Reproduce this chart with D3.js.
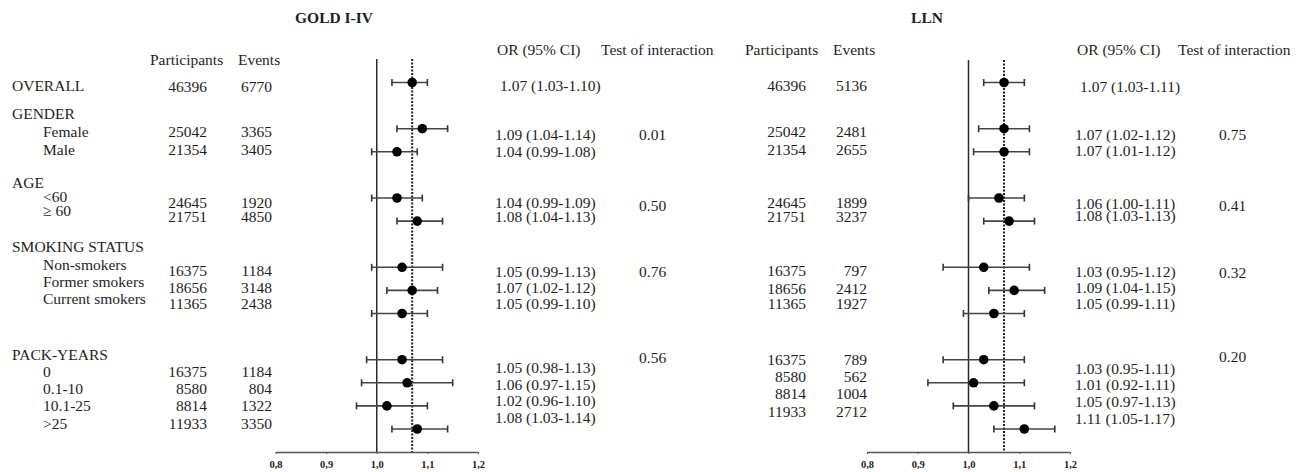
<!DOCTYPE html>
<html>
<head>
<meta charset="utf-8">
<script src="https://cdn.jsdelivr.net/npm/d3@7"></script>
<style>
  body { margin: 0; background: #fff; }
  text { font-family: "Liberation Serif", "Times New Roman", serif; fill: #1e1e1e; }
</style>
</head>
<body>
<script>
// chart data
var groups = ["GENDER", "AGE", "SMOKING STATUS", "PACK-YEARS"];
var subgroups = ["OVERALL", "Female", "Male", "<60", "\u2265 60", "Non-smokers", "Former smokers",
  "Current smokers", "0", "0.1-10", "10.1-25", ">25"];
var participants = [46396, 25042, 21354, 24645, 21751, 16375, 18656, 11365, 16375, 8580, 8814, 11933];

var goldEvents = [6770, 3365, 3405, 1920, 4850, 1184, 3148, 2438, 1184, 804, 1322, 3350];
var goldOR = [1.07, 1.09, 1.04, 1.04, 1.08, 1.05, 1.07, 1.05, 1.05, 1.06, 1.02, 1.08];
var goldLo = [1.03, 1.04, 0.99, 0.99, 1.04, 0.99, 1.02, 0.99, 0.98, 0.97, 0.96, 1.03];
var goldHi = [1.10, 1.14, 1.08, 1.09, 1.13, 1.13, 1.12, 1.10, 1.13, 1.15, 1.10, 1.14];
var goldInteraction = ["0.01", "0.50", "0.76", "0.56"];

var llnParticipants = [46396, 25042, 21354, 24645, 21751, 16375, 18656, 11365, 16375, 8580, 8814, 11933];
var llnEvents = [5136, 2481, 2655, 1899, 3237, 797, 2412, 1927, 789, 562, 1004, 2712];
var llnOR = [1.07, 1.07, 1.07, 1.06, 1.08, 1.03, 1.09, 1.05, 1.03, 1.01, 1.05, 1.11];
var llnLo = [1.03, 1.02, 1.01, 1.00, 1.03, 0.95, 1.04, 0.99, 0.95, 0.92, 0.97, 1.05];
var llnHi = [1.11, 1.12, 1.12, 1.11, 1.13, 1.12, 1.15, 1.11, 1.11, 1.11, 1.13, 1.17];
var llnInteraction = ["0.75", "0.41", "0.32", "0.20"];

var ticks = [0.8, 0.9, 1.0, 1.1, 1.2];
var pooledOR = 1.07;

// layout (row slots for the plot, text baselines for the tables)
var rowSlot = [0, 2, 3, 5, 6, 8, 9, 10, 12, 13, 14, 15];
var groupY = [119, 188, 252, 359.5];
var labelY = [91, 137, 154.5, 202, 216, 269.5, 287, 304, 377, 394, 411, 428.5];
var goldNumY = [92, 137, 154.5, 208, 222, 276, 292.5, 309, 377, 394, 411, 428.5];
var goldOrY = [91, 140, 157, 207.5, 222, 277, 293, 309, 372.5, 389.5, 406, 422.5];
var goldIntY = [140, 211, 277, 362.5];
var llnNumY = [91, 137, 154.5, 207.5, 222, 276, 293.5, 309, 364.5, 382, 399, 417];
var llnOrY = [92, 140, 155.5, 209, 220.5, 277, 292.5, 308.5, 373.5, 390, 407, 423.5];
var llnIntY = [139.5, 210.5, 278, 362];

var width = 1309, height = 472, fs = "15.5px";

var svg = d3.select("body").append("svg")
  .attr("width", width)
  .attr("height", height);

var y = d3.scaleLinear().domain([0, 15]).range([82.5, 429]);

function addText(x, yy, s, anchor, extra) {
  var t = svg.append("text")
    .attr("x", x).attr("y", yy)
    .attr("text-anchor", anchor || "start")
    .style("font-size", fs)
    .text(s);
  if (extra) t.style("font-weight", extra);
  return t;
}

// draw one panel
function panel(p) {
  addText(p.titleX, 23, p.title, "middle", "bold");
  addText(p.partHeadX, p.partHeadY, "Participants");
  addText(p.evHeadX, p.partHeadY, "Events");
  addText(p.orX + 2, 55, "OR (95% CI)");
  addText(p.intHeadX, 55, "Test of interaction");

  p.parts.forEach(function(v, i) { addText(p.partRight, p.numY[i], v, "end"); });
  p.events.forEach(function(v, i) { addText(p.evRight, p.numY[i], v, "end"); });
  p.or.forEach(function(v, i) {
    var s = d3.format(".2f")(v) + " (" + d3.format(".2f")(p.lo[i]) + "-" + d3.format(".2f")(p.hi[i]) + ")";
    addText(p.orX + (i == 0 ? 5 : 0), p.orY[i], s);
  });
  p.inter.forEach(function(v, i) { addText(p.intX, p.intY[i], v); });

  var x = d3.scaleLinear().domain([0.8, 1.2]).range([p.x0, p.x1]);
  var g = svg.append("g");

  // reference lines
  g.append("line")
    .attr("x1", x(1)).attr("x2", x(1))
    .attr("y1", p.top).attr("y2", 452)
    .attr("stroke", "#2a2a2a").attr("stroke-width", 1.5);
  g.append("line")
    .attr("x1", x(pooledOR)).attr("x2", x(pooledOR))
    .attr("y1", p.top).attr("y2", 452)
    .attr("stroke", "#222").attr("stroke-width", 2)
    .attr("stroke-dasharray", "2,1.5");

  var rows = p.or.map(function(v, i) { return { or: v, lo: p.lo[i], hi: p.hi[i], slot: rowSlot[i] }; });

  var r = g.selectAll("g.row").data(rows).enter().append("g").attr("class", "row");
  r.append("line")
    .attr("x1", function(d) { return x(d.lo); })
    .attr("x2", function(d) { return x(d.hi); })
    .attr("y1", function(d) { return y(d.slot); })
    .attr("y2", function(d) { return y(d.slot); })
    .attr("stroke", "#444").attr("stroke-width", 1.6);
  ["lo", "hi"].forEach(function(k) {
    r.append("line")
      .attr("x1", function(d) { return x(d[k]); })
      .attr("x2", function(d) { return x(d[k]); })
      .attr("y1", function(d) { return y(d.slot) - 3.5; })
      .attr("y2", function(d) { return y(d.slot) + 3.5; })
      .attr("stroke", "#333").attr("stroke-width", 1.6);
  });
  r.append("circle")
    .attr("cx", function(d) { return x(d.or); })
    .attr("cy", function(d) { return y(d.slot); })
    .attr("r", 4.8)
    .attr("fill", "#000");

  // x axis
  var ax = svg.append("g")
    .attr("transform", "translate(0,452)")
    .call(d3.axisBottom(x).tickValues(ticks).tickSize(2).tickSizeOuter(0).tickPadding(7)
      .tickFormat(function(d) { return d3.format(".1f")(d).replace(".", ","); }));
  ax.select(".domain").attr("stroke", "#555").attr("stroke-width", 1.5);
  ax.selectAll(".tick line").attr("stroke", "#555");
  ax.selectAll(".tick text")
    .style("font-family", "'Liberation Serif', serif")
    .style("font-size", "10.5px").style("font-weight", "bold").attr("fill", "#222");
}

// row labels (left only)
addText(12, labelY[0], subgroups[0]);
groups.forEach(function(gname, i) { addText(12, groupY[i], gname); });
subgroups.slice(1).forEach(function(s, i) { addText(43, labelY[i + 1], s); });

panel({
  title: "GOLD I-IV", titleX: 334,
  partHeadX: 150, evHeadX: 238, partHeadY: 65,
  parts: participants, events: goldEvents, numY: goldNumY,
  partRight: 207, evRight: 272,
  or: goldOR, lo: goldLo, hi: goldHi, orX: 495, orY: goldOrY,
  intHeadX: 601, intX: 639, inter: goldInteraction, intY: goldIntY,
  x0: 275.5, x1: 478, top: 59
});

panel({
  title: "LLN", titleX: 927,
  partHeadX: 745, evHeadX: 833, partHeadY: 55,
  parts: llnParticipants, events: llnEvents, numY: llnNumY,
  partRight: 806, evRight: 867,
  or: llnOR, lo: llnLo, hi: llnHi, orX: 1075, orY: llnOrY,
  intHeadX: 1178, intX: 1219, inter: llnInteraction, intY: llnIntY,
  x0: 867, x1: 1070, top: 60
});
</script>
</body>
</html>
